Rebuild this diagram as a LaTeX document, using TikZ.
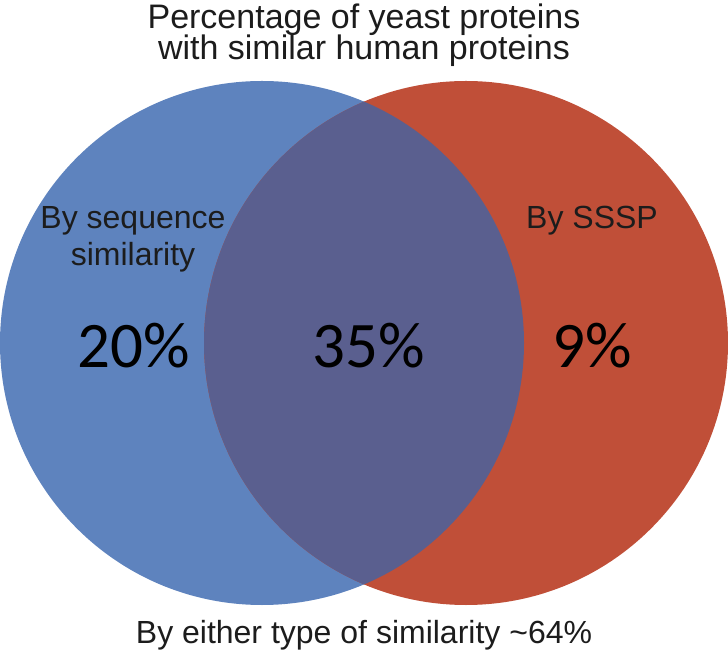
\documentclass[tikz,border=0pt]{standalone}
\usepackage{fontspec}
\setmainfont{Liberation Sans}
\newfontfamily\pctfont{Carlito}
\usepackage{xcolor}
\definecolor{seqblue}{HTML}{5E83BE}
\definecolor{ssspred}{HTML}{C04F38}
\definecolor{bothblue}{HTML}{5A5F8F}
\definecolor{labelgray}{HTML}{1C1C1C}

\begin{document}
\begin{tikzpicture}[x=1pt, y=1pt,
    setcircle/.style={circle, minimum size=524pt, inner sep=0pt},
    labeltext/.style={anchor=base, text=labelgray, font=\fontsize{32}{38}\selectfont},
    headtext/.style={labeltext, font=\fontsize{34}{40}\selectfont},
    pcttext/.style={anchor=base, text=black, font=\pctfont\fontsize{65}{78}\selectfont}]
\useasboundingbox (0,0) rectangle (728,651);
% the two sets
\node[setcircle, fill=seqblue] (seq) at (262,308) {};
\node[setcircle, fill=ssspred] (sssp) at (466,308) {};
\begin{scope}
    \clip (seq.center) circle (262pt);
    \fill[bothblue] (sssp.center) circle (262pt);
\end{scope}
% headings
\node[headtext] (title1) at (364,622) {Percentage of yeast proteins};
\node[headtext] (title2) at (364,591) {with similar human proteins};
\node[labeltext] (either) at (364,8) {By either type of similarity \textasciitilde64\%};
% set labels
\node[labeltext] (seqlabel1) at (133,422) {By sequence};
\node[labeltext] (seqlabel2) at (133,385) {similarity};
\node[labeltext] (sssplabel) at (592,422) {By SSSP};
% percentages
\node[pcttext] (seqonly) at (134,283) {20\%};
\node[pcttext] (both) at (369,283) {35\%};
\node[pcttext] (ssspOnly) at (592,283) {9\%};
\end{tikzpicture}
\end{document}
